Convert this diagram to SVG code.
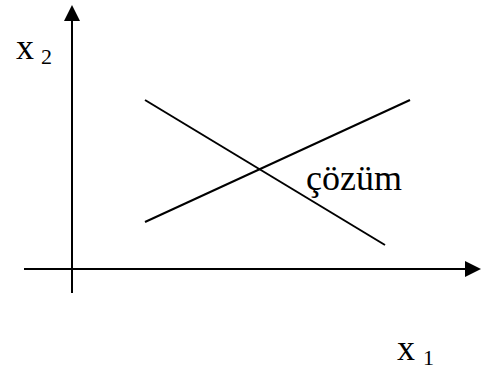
<svg xmlns="http://www.w3.org/2000/svg" width="486" height="372" viewBox="0 0 486 372">
<style>
.ax{stroke:#000;stroke-width:2;fill:none}
.ln{stroke:#000;stroke-width:2}
text{font-family:'Liberation Serif','Times New Roman','DejaVu Serif',serif;fill:#000}
</style>
<rect width="486" height="372" fill="#fff"/>
<g id="axes">
<line class="ax" x1="72" y1="20" x2="72" y2="293"/>
<polygon points="72,5 64,21 80,21" fill="#000"/>
<line class="ax" x1="24" y1="269" x2="465" y2="269"/>
<polygon points="481,269 465,261 465,277" fill="#000"/>
</g>
<g id="connectors">
<line class="ln" x1="145" y1="100" x2="385" y2="245"/>
<line class="ln" x1="145" y1="222" x2="410" y2="100"/>
</g>
<g id="labels">
<text x="16" y="59" font-size="36">x</text><text x="41" y="64" font-size="22">2</text>
<text x="397" y="360" font-size="36">x</text><text x="423" y="365" font-size="22">1</text>
<text x="306" y="190" font-size="36">çözüm</text>
</g>
</svg>
